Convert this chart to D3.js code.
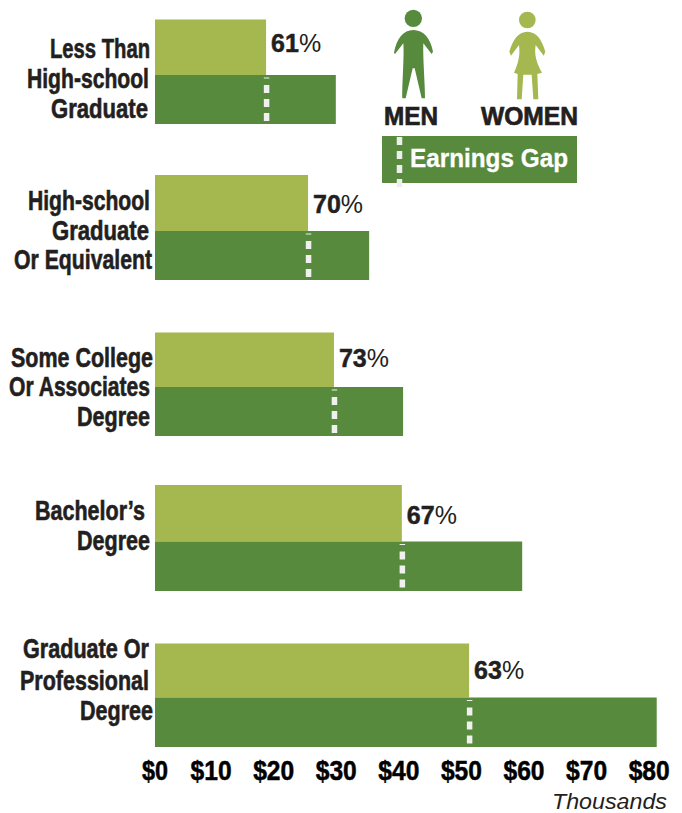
<!DOCTYPE html>
<html><head><meta charset="utf-8">
<script src="https://cdn.jsdelivr.net/npm/d3@7/dist/d3.min.js"></script>
<style>html,body{margin:0;padding:0;background:#fff}svg{display:block}</style>
</head><body><div id="chart"></div>
<script>
const categories = ["Less Than High-school Graduate","High-school Graduate Or Equivalent","Some College Or Associates Degree","Bachelor's Degree","Graduate Or Professional Degree"];
const menEarnings = [29.3, 34.7, 40.2, 59.5, 81.3];
const womenEarnings = [18.0, 24.8, 29.0, 40.0, 50.9];
const gapLabels = ["61","70","73","67","63"];
const tickValues = [0,10,20,30,40,50,60,70,80];

const W=682,H=813,dark="#578a3d",light="#a4b84f",ink="#231f20",narrow="'Liberation Sans Narrow','Liberation Sans'";
const svg=d3.select("#chart").append("svg").attr("width",W).attr("height",H);
const x=d3.scaleLinear().domain([0,80]).range([155,648.7]);
const xAxisScale=d3.scaleLinear().domain([0,80]).range([148,648.7]);
const rowTop=d3.scaleOrdinal().domain(categories).range([19.5,175,332.5,485,643.5]);
const rowMid=d3.scaleOrdinal().domain(categories).range([75,231,387,541.5,697.5]);
const rowEnd=d3.scaleOrdinal().domain(categories).range([124,280,436,591,747]);
const pctBase=d3.scaleOrdinal().domain(categories).range([52,213,367,524,679]);

const rows=svg.selectAll("g.row").data(categories).join("g").attr("class","row");
rows.append("rect").attr("x",x(0)).attr("y",d=>rowTop(d)).attr("height",d=>rowMid(d)-rowTop(d))
  .attr("width",(d,i)=>x(womenEarnings[i])-x(0)).attr("fill",light);
rows.append("rect").attr("x",x(0)).attr("y",d=>rowMid(d)).attr("height",d=>rowEnd(d)-rowMid(d))
  .attr("width",(d,i)=>x(menEarnings[i])-x(0)).attr("fill",dark);
rows.append("line").attr("x1",(d,i)=>x(womenEarnings[i])+.5).attr("x2",(d,i)=>x(womenEarnings[i])+.5)
  .attr("y1",d=>rowMid(d)+2.5).attr("y2",d=>rowMid(d)+46)
  .attr("stroke","#f0f0f0").attr("stroke-width",5.5).attr("stroke-dasharray","1,6.5,8,6,8,6,8");
rows.append("text").attr("x",(d,i)=>x(womenEarnings[i])+5).attr("y",d=>pctBase(d))
  .attr("font-family","'Liberation Sans'").attr("font-size",25).attr("fill",ink)
  .each(function(d,i){const t=d3.select(this);
    t.append("tspan").attr("font-weight",700).attr("stroke",ink).attr("stroke-width",.5).text(gapLabels[i]);
    t.append("tspan").attr("dx",0).text("%");});

const labelLines=[["Less Than","High-school","Graduate"],["High-school","Graduate","Or Equivalent"],["Some College","Or Associates","Degree"],["Bachelor’s","Degree"],["Graduate Or","Professional","Degree"]];
const labelBase=[[57.5,87.5,117.5],[210,240,268.5],[366.5,396,426],[519.5,550],[658,690,720]];
const labelRight=[[150,149,148],[150,149,152],[153,150,150],[145,150],[149,149,153]];
const labelWidth=[[100,122,97],[122,97,138],[142,141,73],[110,73],[126,129,73]];
labelLines.forEach((ls,i)=>ls.forEach((s,j)=>svg.append("text").attr("x",labelRight[i][j]).attr("y",labelBase[i][j])
  .attr("text-anchor","end").attr("font-family",narrow).attr("font-weight",700)
  .attr("font-size",27).attr("fill",ink).attr("stroke",ink).attr("stroke-width",.6)
  .attr("textLength",labelWidth[i][j]).attr("lengthAdjust","spacingAndGlyphs").text(s)));

const axis=d3.axisBottom(xAxisScale).tickValues(tickValues).tickFormat(d=>"$"+d).tickSize(0);
const ax=svg.append("g").attr("transform","translate(0,780)").call(axis);
ax.select(".domain").remove();
ax.selectAll("text").attr("font-family",narrow).attr("font-weight",700)
  .attr("font-size",27).attr("fill","#000").attr("stroke","#000").attr("stroke-width",.5)
  .attr("y",0).attr("dy",0).attr("dx",d=>d===0?6.6:0)
  .attr("textLength",d=>d===0?26:41).attr("lengthAdjust","spacingAndGlyphs");
svg.append("text").attr("x",667).attr("y",808.5).attr("text-anchor","end").attr("font-family","'Liberation Sans'")
  .attr("font-style","italic").attr("font-size",22).attr("fill",ink).attr("textLength",115).attr("lengthAdjust","spacingAndGlyphs").text("Thousands");

// legend
const legend=svg.append("g");
const icons=legend.append("g").attr("transform","translate(370,0) scale(0.33333)");
icons.append("circle").attr("cx",130).attr("cy",55).attr("r",26).attr("fill",dark);
icons.append("path").attr("fill",dark).attr("d","M130 90C100 90 80 115 72 158L75 162L100 130C103 170 96 250 97 295L107 295L128 205L134 205L155 295L165 295C165 250 158 170 160 130L185 162L189 155C182 115 160 90 130 90Z");
icons.append("circle").attr("cx",472).attr("cy",60).attr("r",25).attr("fill",light);
icons.append("path").attr("fill",light).attr("d","M472 95C445 95 428 120 418 155L423 167L447 135C451 165 445 190 432 218L443 222L441 298L455 298L460 224L485 224L490 298L505 298L502 222L516 218C500 190 492 165 497 135L521 167L526 155C516 120 500 95 472 95Z");
legend.append("text").attr("x",384).attr("y",125).attr("font-family","'Liberation Sans'").attr("font-weight",700)
  .attr("font-size",26).attr("fill",ink).attr("stroke",ink).attr("stroke-width",.7).attr("textLength",54).attr("lengthAdjust","spacingAndGlyphs").text("MEN");
legend.append("text").attr("x",481).attr("y",125).attr("font-family","'Liberation Sans'").attr("font-weight",700)
  .attr("font-size",26).attr("fill",ink).attr("stroke",ink).attr("stroke-width",.7).attr("textLength",97).attr("lengthAdjust","spacingAndGlyphs").text("WOMEN");
legend.append("rect").attr("x",382).attr("y",136).attr("width",195).attr("height",47).attr("fill",dark);
legend.append("line").attr("x1",399.5).attr("x2",399.5).attr("y1",137).attr("y2",187)
  .attr("stroke","#eeeeee").attr("stroke-width",5.5).attr("stroke-dasharray","8,6");
legend.append("text").attr("x",410).attr("y",167).attr("font-family",narrow).attr("font-weight",700)
  .attr("font-size",26).attr("fill","#fff").attr("stroke","#fff").attr("stroke-width",.3).attr("textLength",158).attr("lengthAdjust","spacingAndGlyphs").text("Earnings Gap");
</script></body></html>
